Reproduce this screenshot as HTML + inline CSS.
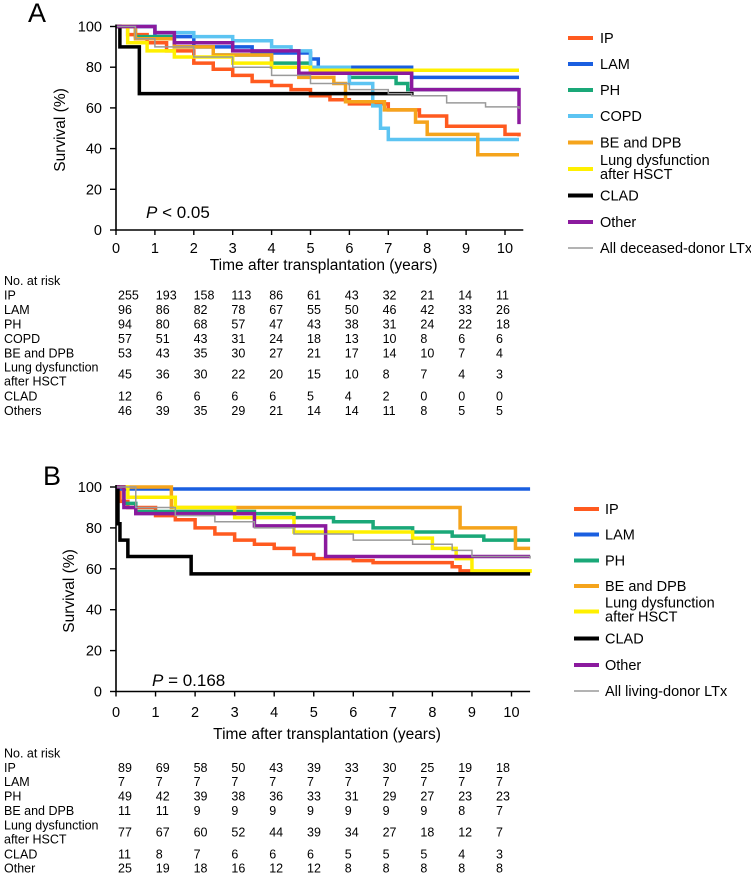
<!DOCTYPE html>
<html><head><meta charset="utf-8">
<style>
html,body{margin:0;padding:0;background:#fff;}
body{width:751px;height:883px;overflow:hidden;font-family:"Liberation Sans",Arial,sans-serif;}
svg text{font-family:"Liberation Sans",Arial,sans-serif;fill:#000;}
</style></head>
<body>
<svg id="chart" width="751" height="883" viewBox="0 0 751 883" xmlns="http://www.w3.org/2000/svg">
<g id="gA"></g>
<g id="gB"></g>
</svg>
<script>
// ---------- shared data ----------
const xTicks = [0,1,2,3,4,5,6,7,8,9,10];
const yTicks = [0,20,40,60,80,100];

// ---------- Panel A data (deceased donor) ----------
const seriesA = ["IP","LAM","PH","COPD","BE and DPB","Lung dysfunction|after HSCT","CLAD","Other","All deceased-donor LTx"];
const ipA_t = [0,0.3,0.8,1.3,2,2.5,3,3.5,4,4.5,5,5.5,6,7,7.8,8.5,10,10.36];
const ipA_s = [100,96,92,88,82,79,76,73,71,69,66,64,62,59,56,51,47,46];
const lamA_t = [0,1,2,3.5,5,5.2,7.6,10.36];
const lamA_s = [100,95,90,87,84,80,75,75];
const phA_t = [0,0.5,1.5,2.5,4,5,6,7.2,7.5,10.36];
const phA_s = [100,95,90,86,82,78,75,72,69,69];
const copdA_t = [0,1,2,3,4,4.5,5,6,6.6,6.8,7,10.36];
const copdA_s = [100,97,95,93,90,88,80,72,61,50,44.5,44.5];
const beA_t = [0,0.5,1.5,2.5,4,4.7,5.6,5.9,6.9,7.7,8,9.3,10.36];
const beA_s = [100,94,90,86,80,75,72,63,59,53,47,37,37];
const lungA_t = [0,0.3,0.8,1.5,3,4,5,10.36];
const lungA_s = [100,92,88,85,82,80,78.5,78.5];
const cladA_t = [0,0.1,0.6,7.65];
const cladA_s = [100,90,67,67];
const otherA_t = [0,1,1.5,3,4.4,4.7,7.6,10.35,10.36];
const otherA_s = [100,97,92,88,88,77,69,69,52];
const allA_t = [0,0.5,1,2,3,4,5,6,7,7.6,8.5,9.5,10.36];
const allA_s = [100,94,90,85,80,76,72,69,67,66,62.5,60.5,59.5];
const riskRowsA = ["IP","LAM","PH","COPD","BE and DPB","Lung dysfunction|after HSCT","CLAD","Others"];
const riskIPA = [255,193,158,113,86,61,43,32,21,14,11];
const riskLAMA = [96,86,82,78,67,55,50,46,42,33,26];
const riskPHA = [94,80,68,57,47,43,38,31,24,22,18];
const riskCOPDA = [57,51,43,31,24,18,13,10,8,6,6];
const riskBEA = [53,43,35,30,27,21,17,14,10,7,4];
const riskLungA = [45,36,30,22,20,15,10,8,7,4,3];
const riskCLADA = [12,6,6,6,6,5,4,2,0,0,0];
const riskOtherA = [46,39,35,29,21,14,14,11,8,5,5];

// ---------- Panel B data (living donor) ----------
const seriesB = ["IP","LAM","PH","BE and DPB","Lung dysfunction|after HSCT","CLAD","Other","All living-donor LTx"];
const ipB_t = [0,0.1,0.3,1,1.5,2,2.5,3,3.5,4,4.5,5,6,6.5,8.5,8.7,9,10.47];
const ipB_s = [100,93,90,86,84,80,77,74,72,70,67,65,64,63,61,59,58,58];
const lamB_t = [0,10.47];
const lamB_s = [99,99];
const phB_t = [0,0.2,0.5,3.5,4.5,5.5,6.5,7.5,8.5,9.3,10.47];
const phB_s = [100,92,88,87,85,83,80,78,76,74,74];
const beB_t = [0,1.4,8.7,10.1,10.47];
const beB_s = [100,90,80,70,70];
const lungB_t = [0,0.3,1.5,3,4.5,7.5,8,8.6,9,10.47];
const lungB_s = [100,95,90,85,78,75,70,65,59,58];
const cladB_t = [0,0.05,0.1,0.3,1.9,10.47];
const cladB_s = [100,82,74,66,57.5,57.5];
const otherB_t = [0,0.2,0.5,3.5,5.3,10.47];
const otherB_s = [100,90,87,81,66,66];
const allB_t = [0,0.5,1.5,2.5,3.5,4.5,6,7.5,8.5,9,10.47];
const allB_s = [100,90,86,83,80,77,74,72,69,66,65];
const riskRowsB = ["IP","LAM","PH","BE and DPB","Lung dysfunction|after HSCT","CLAD","Other"];
const riskIPB = [89,69,58,50,43,39,33,30,25,19,18];
const riskLAMB = [7,7,7,7,7,7,7,7,7,7,7];
const riskPHB = [49,42,39,38,36,33,31,29,27,23,23];
const riskBEB = [11,11,9,9,9,9,9,9,9,8,7];
const riskLungB = [77,67,60,52,44,39,34,27,18,12,7];
const riskCLADB = [11,8,7,6,6,6,5,5,5,4,3];
const riskOtherB = [25,19,18,16,12,12,8,8,8,8,8];

const NS = "http://www.w3.org/2000/svg";
function mk(tag, attrs, parent){
  const e = document.createElementNS(NS, tag);
  for (const k in attrs) e.setAttribute(k, attrs[k]);
  parent.appendChild(e);
  return e;
}

function drawPanel(g, cfg){
  const sx = t => cfg.x0 + t*(cfg.x10-cfg.x0)/10;
  const sy = s => cfg.y0 - s*(cfg.y0-cfg.y100)/100;
  const L = mk("text",{x:cfg.letterX,y:cfg.letterY,"font-size":27},g);
  L.textContent = cfg.letter;
  
  
  cfg.curves.forEach(c=>{
    let d = "M"+sx(c.t[0])+","+sy(c.s[0]);
    for(let i=1;i<c.t.length;i++){
      d += " H"+sx(c.t[i])+" V"+sy(c.s[i]);
    }
    const p = mk("path",{d:d,fill:"none",stroke:c.color,"stroke-width":c.w,"stroke-linejoin":"miter"},g);
    
    
  });
  const ax = mk("path",{d:`M${cfg.x0},${cfg.y100-2} V${cfg.y0} H${sx(10.47)}`,fill:"none",stroke:"#000","stroke-width":1.6},g);
  
  
  yTicks.forEach(v=>{
    mk("line",{x1:cfg.x0-6,x2:cfg.x0,y1:sy(v),y2:sy(v),stroke:"#000","stroke-width":1.4},g);
    const t = mk("text",{x:cfg.x0-14,y:sy(v)+5,"font-size":14.5,"text-anchor":"end"},g);
    t.textContent = v;
    
    
  });
  xTicks.forEach(v=>{
    mk("line",{x1:sx(v),x2:sx(v),y1:cfg.y0,y2:cfg.y0+5,stroke:"#000","stroke-width":1.4},g);
    const t = mk("text",{x:sx(v),y:cfg.xLabY,"font-size":14.5,"text-anchor":"middle"},g);
    t.textContent = v;
    
    
  });
  const xt = mk("text",{x:(cfg.x0+sx(10.47))/2+4,y:cfg.xTitleY,"font-size":15.5,"text-anchor":"middle"},g);
  xt.textContent = "Time after transplantation (years)";
  
  
  const yt = mk("text",{x:0,y:0,"font-size":15.5,"text-anchor":"middle",transform:`translate(${cfg.yTitleX},${cfg.yTitleY}) rotate(-90)`},g);
  yt.textContent = "Survival (%)";
  
  
  const pv = mk("text",{x:cfg.pX,y:cfg.pY,"font-size":17},g);
  pv.innerHTML = '<tspan font-style="italic">P</tspan>'+cfg.pText;
  
  
  cfg.legend.forEach((item,i)=>{
    const c = cfg.curves[i];
    const y = cfg.legY[i];
    const lg = mk("g",{},g);
    
    
    mk("line",{x1:cfg.legX1,x2:cfg.legX2,y1:y,y2:y,stroke:c.color,"stroke-width":c.w>2?4:1.5},lg);
    const parts = item.split("|");
    if(parts.length===1){
      const t = mk("text",{x:cfg.legTX,y:y+5,"font-size":14.5},lg);
      t.textContent = parts[0];
    } else {
      const t1 = mk("text",{x:cfg.legTX,y:y-4,"font-size":14.5},lg);
      t1.textContent = parts[0];
      const t2 = mk("text",{x:cfg.legTX,y:y+10,"font-size":14.5},lg);
      t2.textContent = parts[1];
    }
  });
  const nr = mk("text",{x:4,y:cfg.riskHeadY,"font-size":12.5},g);
  nr.textContent = "No. at risk";
  
  
  cfg.riskRows.forEach((name,i)=>{
    const y = cfg.riskY[i];
    const parts = name.split("|");
    if(parts.length===1){
      const t = mk("text",{x:4,y:y,"font-size":12.5},g);
      t.textContent = name;
      
      
    } else {
      const t1 = mk("text",{x:4,y:y-7,"font-size":12.5},g);
      t1.textContent = parts[0];
      
      
      const t2 = mk("text",{x:4,y:y+7,"font-size":12.5},g);
      t2.textContent = parts[1];
      
      
    }
    cfg.riskVals[i].forEach((v,j)=>{
      const t = mk("text",{x:118+37.8*j,y:y,"font-size":12.5},g);
      t.textContent = v;
      
      
    });
  });
}

const C = {ip:"#ff5a1f",lam:"#1a5fe0",ph:"#1aa878",copd:"#5cc4f2",be:"#f5a41c",lung:"#fff000",clad:"#000000",other:"#8b1a9e",all:"#9a9a9a"};

drawPanel(document.getElementById("gA"),{
  letter:"A",letterX:28,letterY:22,
  x0:116,x10:505,y0:230,y100:26.5,
  xLabY:253,xTitleY:270,yTitleX:65,yTitleY:130,
  pX:146,pY:218,pText:" < 0.05",
  curves:[
    {key:"ip",t:ipA_t,s:ipA_s,color:C.ip,w:3.5},
    {key:"lam",t:lamA_t,s:lamA_s,color:C.lam,w:3.5},
    {key:"ph",t:phA_t,s:phA_s,color:C.ph,w:3.5},
    {key:"copd",t:copdA_t,s:copdA_s,color:C.copd,w:3.5},
    {key:"be",t:beA_t,s:beA_s,color:C.be,w:3.5},
    {key:"lung",t:lungA_t,s:lungA_s,color:C.lung,w:3.5},
    {key:"clad",t:cladA_t,s:cladA_s,color:C.clad,w:3.5},
    {key:"other",t:otherA_t,s:otherA_s,color:C.other,w:3.5},
    {key:"all",t:allA_t,s:allA_s,color:C.all,w:1.5}
  ],
  legend:seriesA,
  legY:[38,64,90,116,142.5,169,195.5,222,248],
  legX1:568,legX2:593,legTX:600,
  riskHeadY:285,
  riskRows:riskRowsA,
  riskY:[299.5,314,328.5,343,357.5,378.5,400.5,415],
  riskVals:[riskIPA,riskLAMA,riskPHA,riskCOPDA,riskBEA,riskLungA,riskCLADA,riskOtherA]
});

drawPanel(document.getElementById("gB"),{
  letter:"B",letterX:43,letterY:485,
  x0:116,x10:511.5,y0:691.5,y100:487,
  xLabY:717,xTitleY:739,yTitleX:74,yTitleY:591,
  pX:152,pY:686,pText:" = 0.168",
  curves:[
    {key:"ip",t:ipB_t,s:ipB_s,color:C.ip,w:3.5},
    {key:"lam",t:lamB_t,s:lamB_s,color:C.lam,w:3.5},
    {key:"ph",t:phB_t,s:phB_s,color:C.ph,w:3.5},
    {key:"be",t:beB_t,s:beB_s,color:C.be,w:3.5},
    {key:"lung",t:lungB_t,s:lungB_s,color:C.lung,w:3.5},
    {key:"clad",t:cladB_t,s:cladB_s,color:C.clad,w:3.5},
    {key:"other",t:otherB_t,s:otherB_s,color:C.other,w:3.5},
    {key:"all",t:allB_t,s:allB_s,color:C.all,w:1.5}
  ],
  legend:seriesB,
  legY:[509,534.5,560.5,586,611.5,638.5,665,691],
  legX1:574,legX2:599,legTX:605,
  riskHeadY:757.5,
  riskRows:riskRowsB,
  riskY:[772,786,800.5,815,836.5,858.5,872.5],
  riskVals:[riskIPB,riskLAMB,riskPHB,riskBEB,riskLungB,riskCLADB,riskOtherB]
});
</script>
</body></html>
